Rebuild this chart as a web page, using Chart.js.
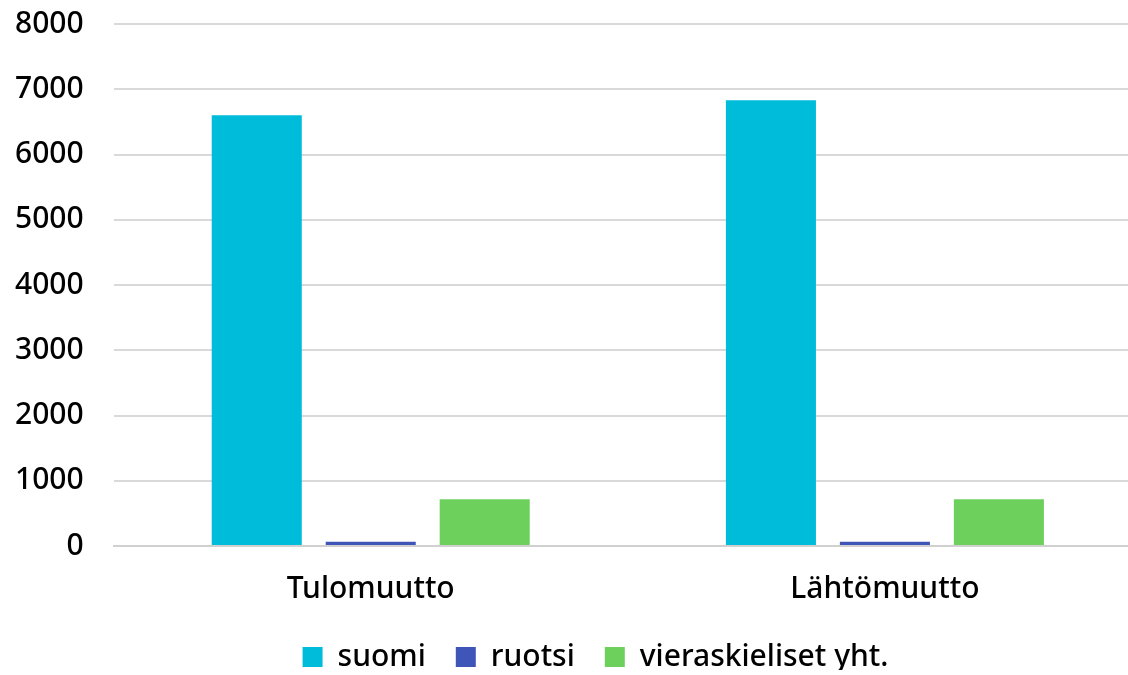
<!DOCTYPE html>
<html>
<head>
<meta charset="utf-8">
<script src="https://cdn.jsdelivr.net/npm/chart.js@4.4.0/dist/chart.umd.min.js"></script>
<style>
  html, body { margin: 0; padding: 0; background: #fff; overflow: hidden; }
  /* plot is cropped at the top and right in the original */
  #wrap { position: absolute; top: -24px; left: 0; width: 1142px; height: 699px; }
</style>
</head>
<body>
<div id="wrap"><canvas id="kaavio"></canvas></div>
<script>
const kategoriat = ['Tulomuutto', 'Lähtömuutto'];
const suomi = [6600, 6830];
const ruotsi = [66, 66];
const vieraskieliset = [715, 715];
const yTicks = [0, 1000, 2000, 3000, 4000, 5000, 6000, 7000, 8000];

Chart.defaults.font.family = '"Noto Sans", "Open Sans", sans-serif';
Chart.defaults.font.weight = '500';
Chart.defaults.color = '#000';

// legend: wide spacing between items but less room above them
const legendShift = {
  id: 'legendShift',
  afterLayout(chart) {
    const lg = chart.legend;
    lg.top -= 12;
    lg.bottom -= 12;
    lg.left += 32;
    lg.right += 32;
  }
};

const ctx = document.getElementById('kaavio').getContext('2d');
new Chart(ctx, {
  type: 'bar',
  data: {
    labels: kategoriat,
    datasets: [
      { label: 'suomi', data: suomi, backgroundColor: '#00bcdb' },
      { label: 'ruotsi', data: ruotsi, backgroundColor: '#3f56b8' },
      { label: 'vieraskieliset yht.', data: vieraskieliset, backgroundColor: '#6dd05c' }
    ]
  },
  options: {
    responsive: true,
    maintainAspectRatio: false,
    animation: false,
    layout: { padding: { top: 0, right: 0, left: -15, bottom: -7 } },
    datasets: {
      bar: { categoryPercentage: 0.665, barPercentage: 0.79 }
    },
    scales: {
      x: {
        grid: { display: false },
        border: { color: '#d0d0d0', width: 2 },
        ticks: { font: { size: 30 }, padding: 17 }
      },
      y: {
        min: 0,
        max: 8000,
        afterBuildTicks: (axis) => { axis.ticks = yTicks.map(v => ({ value: v })); },
        grid: { color: '#d9d9d9', lineWidth: 2, drawTicks: false },
        border: { display: false },
        ticks: { font: { size: 30 }, padding: 30, callback: (v) => String(v) }
      }
    },
    plugins: {
      legend: {
        position: 'bottom',
        maxHeight: 58,
        labels: { font: { size: 30 }, boxWidth: 20, boxHeight: 20, padding: 30 }
      },
      tooltip: { enabled: false }
    }
  },
  plugins: [legendShift]
});
</script>
</body>
</html>
